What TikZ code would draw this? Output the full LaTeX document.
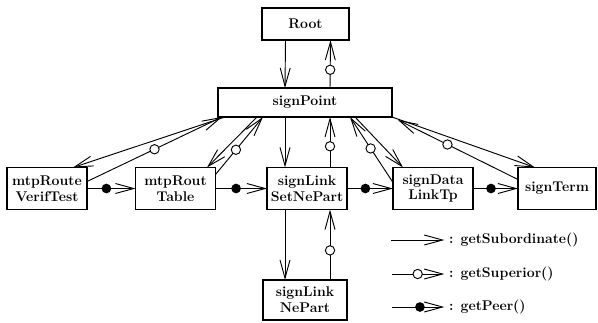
\documentclass[tikz,border=0pt]{standalone}
\usepackage{tikz}
\usetikzlibrary{arrows.meta}
\usetikzlibrary{calc}
\tikzstyle{obj} = [draw, line width=1.1pt, inner sep=0pt, outer sep=0pt,
    minimum width=2.4cm, minimum height=1.26cm, align=center,
    font=\fontsize{12}{13.6}\selectfont\bfseries]
\tikzstyle{supcirc} = [circle, draw, fill=white, line width=0.8pt,
    inner sep=0pt, minimum size=2.8mm]
\tikzstyle{peerdot} = [circle, fill=black, inner sep=0pt, minimum size=2.9mm]
\tikzstyle{link} = [line width=0.8pt, ->]
\tikzstyle{keytext} = [anchor=west, inner sep=0pt,
    font=\fontsize{12}{13.6}\selectfont\bfseries]
\tikzset{>={Straight Barb[length=5.5mm,width=3mm]}}

\begin{document}
\begin{tikzpicture}
\begin{scope}[x=0.03cm,y=-0.03cm]
    \useasboundingbox (0,0) rectangle (598,322);
    %nodes
    \node[obj, minimum width=2.61cm, minimum height=0.96cm] (root) at (305.5,24) {Root};
    \node[obj, minimum width=5.22cm, minimum height=0.87cm] (sp) at (305,102.5) {signPoint};
    \node[obj] (vt) at (47,188.5) {mtpRoute\\VerifTest};
    \node[obj] (tb) at (175.5,188.5) {mtpRout\\Table};
    \node[obj] (sn) at (307,188.5) {signLink\\SetNePart};
    \node[obj] (dl) at (433,188.5) {signData\\LinkTp};
    \node[obj, minimum width=2.34cm] (tm) at (557,188.5) {signTerm};
    \node[obj, minimum width=2.52cm, minimum height=1.2cm] (np) at (305,300) {signLink\\NePart};
    %subordinates
    \draw[link] ($(root.south)+(-20,0)$) -- ($(sp.north)+(-20,0)$);
    \draw[link] ($(sp.south west)+(7,0)$) -- ($(vt.north)+(26,0)$);
    \draw[link] ($(sp.south west)+(39,0)$) -- ($(tb.north)+(31.5,0)$);
    \draw[link] ($(sp.south)+(-20,0)$) -- ($(sn.north)+(-22,0)$);
    \draw[link] ($(sp.south east)+(-37,0)$) -- ($(dl.north)+(-30,0)$);
    \draw[link] (sp.south east) -- ($(tm.north)+(-22,0)$);
    \draw[link] ($(sn.south)+(-22,0)$) -- ($(np.north)+(-20,0)$);
    %superiors
    \draw[link] ($(sp.north)+(25,0)$) -- node[supcirc, pos=0.38] {} ($(root.south)+(25,0)$);
    \draw[link] ($(vt.north east)+(0,14)$) -- node[supcirc, pos=0.5] {} ($(sp.south west)+(4,0)$);
    \draw[link] ($(tb.north east)+(0,7)$) -- node[supcirc, pos=0.43] {} ($(sp.south west)+(45,0)$);
    \draw[link] ($(sn.north)+(23,0)$) -- node[supcirc, pos=0.42] {} ($(sp.south)+(25,0)$);
    \draw[link] ($(dl.north west)+(0,15)$) -- node[supcirc, pos=0.52] {} ($(sp.south east)+(-42,0)$);
    \draw[link, shorten >=2mm] ($(tm.north west)+(0,12)$) -- node[supcirc, pos=0.56] {} (sp.south east);
    \draw[link] ($(np.north)+(25,0)$) -- node[supcirc, pos=0.42] {} ($(sn.south)+(23,0)$);
    %peers
    \draw[link] (vt) -- node[peerdot, pos=0.4] {} (tb);
    \draw[link] (tb) -- node[peerdot, pos=0.4] {} (sn);
    \draw[link] (sn) -- node[peerdot, pos=0.4] {} (dl);
    \draw[link] (dl) -- node[peerdot, pos=0.4] {} (tm);
    %key
    \coordinate (k1) at (391,240);
    \coordinate (k2) at (392,274);
    \coordinate (k3) at (392,307);
    \node[keytext] (t1) at (449,240) {:\enspace getSubordinate()};
    \node[keytext] (t2) at (449,274) {:\enspace getSuperior()};
    \node[keytext] (t3) at (449,307) {:\enspace getPeer()};
    \draw[link, shorten >=4pt] (k1) -- (t1);
    \draw[link, shorten >=4pt] (k2) -- node[supcirc, pos=0.45] {} (t2);
    \draw[link, shorten >=4pt] (k3) -- node[peerdot, pos=0.49] {} (t3);
\end{scope}
\end{tikzpicture}
\end{document}
